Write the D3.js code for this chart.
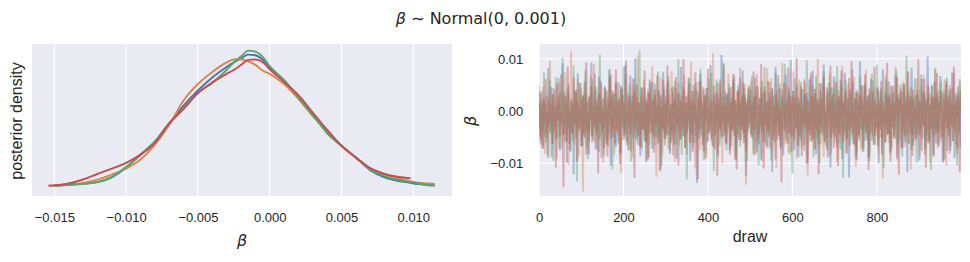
<!DOCTYPE html>
<html><head><meta charset="utf-8">
<script src="https://cdn.jsdelivr.net/npm/d3@7"></script>
<style>body{margin:0;background:#fff}svg{display:block}</style>
</head><body><svg id="c" width="970" height="262"></svg>
<script>
// ---------------- data ----------------
const chainColors = ["#4C72B0", "#DD8452", "#55A868", "#C44E52"];

// KDE evaluation grid (beta values) and per-chain density (arbitrary units)
const kdeGrid = [-0.0154, -0.015, -0.014, -0.013, -0.012, -0.011, -0.010, -0.009, -0.008, -0.007, -0.006, -0.005, -0.004, -0.003, -0.0025, -0.002, -0.0015, -0.001, -0.0005, 0, 0.001, 0.002, 0.003, 0.004, 0.005, 0.006, 0.007, 0.008, 0.009, 0.0098, 0.010, 0.011, 0.0115];
const kdeChain0 = [null, 2.2, 2.6, 3.5, 4.5, 7.9, 15.0, 24.5, 33.7, 46.9, 59.8, 70.7, 80.1, 87.7, 91.0, 93.9, 96.6, 96.2, 93.1, 87.4, 77.2, 66.0, 53.5, 40.0, 30.7, 22.1, 13.2, 8.0, 5.3, 4.0, 3.5, 2.7, 2.5];
const kdeChain1 = [2.0, 2.0, 2.6, 3.9, 6.3, 10.0, 14.3, 20.8, 31.6, 45.8, 63.5, 75.4, 84.1, 91.0, 93.1, 93.3, 91.7, 89.2, 85.2, 82.7, 75.4, 64.7, 52.2, 41.9, 30.8, 22.4, 14.5, 10.3, 7.3, 5.1, 4.7, 3.6, 3.2];
const kdeChain2 = [null, 1.9, 2.5, 3.2, 4.6, 8.2, 15.5, 24.0, 33.9, 46.9, 57.4, 68.8, 76.2, 85.5, 91.0, 95.2, 99.5, 98.8, 95.2, 88.4, 78.3, 65.8, 52.7, 40.4, 30.7, 22.3, 13.9, 8.8, 6.1, 4.6, 4.3, 2.3, 2.0];
const kdeChain3 = [2.0, 2.1, 3.5, 6.4, 10.4, 14.2, 18.4, 24.4, 32.7, 46.9, 57.4, 68.8, 76.6, 82.7, 85.5, 89.1, 92.8, 93.1, 91.3, 86.1, 76.9, 67.3, 54.7, 42.3, 30.8, 22.4, 14.7, 10.4, 8.2, 7.3, null, null, null];

// Trace values, in units of 1e-4 (every 2nd draw)
const traceChain0 = [
-12,35,-48,6,-71,-22,18,-5,-60,29,
-33,82,-15,-41,11,-88,-2,44,-27,-9,
-54,20,-19,63,-37,-76,3,-14,91,-45,
-8,-30,27,-99,-17,51,-63,9,-25,-40,
14,-121,-6,38,-52,-11,72,-34,-20,5,
-67,24,-43,-1,57,-29,-84,16,-10,-58,
31,-16,93,-47,-3,-26,40,-73,8,-38,
-13,66,-56,22,-90,-7,12,-31,48,-21,
-64,1,-44,79,-18,-105,26,-4,-50,34,
-28,-69,17,-12,55,-36,-1,-81,43,-23,
10,-46,87,-9,-59,21,-32,-15,68,-77,
-2,30,-51,-19,101,-40,7,-65,-24,15,
-86,46,-11,-35,2,-57,25,-98,-6,36,
-42,60,-27,-14,-72,19,-3,52,-49,-30,
13,-62,39,-20,-113,4,-37,75,-16,-53,
28,-8,-44,58,-25,-82,11,-1,-39,47,
-66,23,-13,-91,33,-29,6,-55,84,-18,
-7,-48,41,-70,15,-23,-34,62,-4,-96,
20,-43,-12,50,-61,9,-28,-137,37,-15,
-52,71,-5,-33,18,-78,27,-21,-10,45,
-58,3,-40,88,-26,-9,-68,32,-45,12,
-17,54,-87,-2,24,-36,107,-50,-14,8,
-31,-64,35,-22,-6,42,-75,16,-39,-11,
61,-47,21,-94,0,-27,49,-56,14,-19,
-35,78,-8,-60,26,-124,10,-42,31,-24,
-21,40,-6,-53,17,-36,64,-15,-79,8,
-44,25,-10,-93,33,-2,-60,47,-28,11,
-71,19,-39,56,-19,-8,-116,29,-47,3,
84,-24,-55,13,-32,44,-68,-1,22,-85,
6,-41,70,-12,-26,-62,36,-17,98,-49,
-5,27,-74,15,-34,50,-9,-88,21,-30,
-57,9,42,-23,-66,31,-3,-101,18,-37,
60,-14,-45,4,77,-52,-20,34,-82,-7,
24,-64,12,-29,53,-11,-40,89,-58,-16,
1,-75,38,-25,16,-108,45,-33,-4,66,
-50,20,-13,-69,28,-42,8,59,-27,-92,
14,-38,73,-6,-54,23,-19,-127,41,-10,
-31,55,-63,2,-22,35,-80,17,-46,7,
95,-35,-11,26,-70,49,-24,-3,-56,30,
-15,-87,11,62,-41,-18,39,-65,5,-29,
-9,46,-100,21,-36,13,-52,80,-21,-1,
-60,32,-7,-44,57,-30,-78,18,-12,36,
-48,4,69,-26,-89,25,-16,-5,43,-71,
10,-34,52,-59,-2,28,-117,37,-23,15,
-43,83,-11,-67,22,-28,6,-51,40,-14,
-95,19,-37,61,-8,-25,31,-73,3,-46,
104,-20,-56,14,-32,48,-4,-84,27,-18,
-62,35,-9,-40,9,67,-53,-21,-99,24,
-3,-33,58,-76,16,-47,39,-12,-27,74,
-58,12,-90,30,-15,-4,47,-38,21,-69];
const traceChain1 = [
5,-39,22,-66,-14,47,-28,-81,13,-7,
-50,31,-20,96,-35,-3,-62,18,-44,40,
-16,-92,9,-31,55,-24,-1,-70,28,-11,
-58,74,-19,-42,6,-103,33,-8,114,-27,
-46,16,-65,25,-13,-30,61,-87,2,-37,
43,-21,-154,11,-52,36,-4,-74,20,-33,
-10,67,-48,4,-26,90,-60,15,-17,-41,
29,-79,8,-23,51,-36,-99,23,-6,-55,
39,-15,-68,12,81,-29,-2,-45,34,-84,
-12,57,-38,1,-63,26,-20,-118,45,-9,
-32,17,-53,70,-25,-7,-76,35,-43,10,
-3,-89,48,-18,24,-57,3,106,-34,-14,
-71,30,-27,-5,59,-47,14,-95,-22,42,
-11,-64,19,-39,86,-8,-51,27,-30,-126,
7,38,-59,-16,64,-21,-85,9,-44,21,
-28,50,-1,-72,32,-13,-37,77,-56,-4,
15,-97,44,-24,-10,53,-67,6,-33,28,
-49,-18,69,-40,-2,-83,37,-26,12,-61,
94,-15,-46,22,-6,-110,41,-35,3,58,
-29,-74,18,-12,46,-54,-21,31,-88,8,
-41,63,-9,-31,25,-66,111,-20,-48,13,
-3,-79,34,-17,52,-38,-7,-100,27,-25,
40,-58,10,-44,71,-14,-32,19,-69,-1,
55,-27,-93,16,-11,36,-50,-19,83,-36,
-6,24,-62,44,-24,-141,20,-8,49,-30,
-17,58,-43,9,-85,26,-29,-4,71,-52,
14,-36,-11,45,-96,3,-22,37,-61,-8,
82,-30,18,-47,-2,63,-75,10,-25,31,
-14,-109,41,-38,7,-56,22,-19,92,-33,
-66,13,-3,50,-27,-80,34,-12,-45,19,
-7,76,-59,-23,28,-91,4,-40,60,-16,
39,-70,15,-31,-1,54,-48,24,-123,8,
-35,66,-20,-57,30,-9,43,-73,-26,11,
100,-42,-6,21,-64,35,-18,-88,47,-29,
-2,-53,18,-37,72,-13,-77,27,-4,-44,
56,-24,6,-98,40,-16,-62,23,-35,87,
-10,-49,31,-21,-81,15,52,-67,0,-28,
-55,20,-11,65,-39,-106,36,-5,12,-46,
29,-73,48,-19,-32,9,-58,78,-23,-8,
-90,33,-42,17,-14,59,-65,-3,25,-37,
44,-22,-82,8,-51,38,-9,-129,21,-30,
68,-15,-47,27,-60,2,-25,49,-71,14,
-6,-39,85,-28,-94,32,-12,-54,19,-3,
-41,57,-18,-69,11,-34,74,-46,-7,26,
-112,40,-23,5,-57,30,-15,62,-40,-11,
18,-86,46,-27,-4,69,-52,13,-33,-21,
53,-63,7,-99,35,-17,-45,24,-8,80,
-36,-1,-70,42,-26,16,-59,33,-13,-48,
61,-19,-104,28,-38,10,50,-66,-5,22,
-30,73,-14,-49,9,-83,37,-24,55,-10];
const traceChain2 = [
48,-20,-63,17,-5,-36,74,-49,2,-27,
-84,23,-11,59,-42,-18,32,-95,8,-30,
65,-14,-52,12,-71,37,-3,-24,102,-46,
-9,28,-60,-19,43,-35,1,-78,20,-12,
-57,88,-26,-6,35,-135,14,-39,53,-22,
-2,-68,29,-45,11,79,-33,-15,-92,26,
-40,7,-17,61,-55,19,-30,-8,46,-74,
13,-23,108,-51,-4,-37,24,-86,5,-14,
39,-64,16,-28,-1,70,-43,-112,31,-19,
-7,54,-35,9,-58,22,-81,41,-10,-29,
85,-47,3,-21,-66,33,-13,50,-39,-97,
18,-6,-31,62,-25,8,-54,27,-16,116,
-44,-2,-73,21,-36,45,-11,-61,15,-27,
-89,36,-20,4,57,-48,-8,30,-67,-15,
11,76,-41,-24,25,-104,6,-33,42,-12,
-53,19,-3,67,-30,-77,14,-18,-45,34,
-9,58,-62,2,-25,99,-38,-14,23,-84,
47,-29,-5,-50,16,-131,28,-21,64,-8,
-40,10,-70,38,-17,-2,55,-57,20,-32,
-11,81,-46,7,-26,-93,31,-13,44,-60,
3,-36,26,-19,73,-52,-4,-115,17,-28,
60,-9,-42,13,-65,36,-22,1,92,-47,
-15,29,-75,9,-31,52,-7,-56,24,-38,
-1,68,-24,-87,15,-44,40,-12,-69,19,
-27,56,5,-51,32,-18,-96,22,-35,48,
12,-45,67,-22,-81,30,-9,47,-58,-16,
-103,25,-33,6,58,-40,-14,84,-29,-67,
19,-5,-50,36,-20,-94,42,-11,3,-61,
73,-27,-8,21,-46,52,-72,-1,30,-35,
-13,90,-55,17,-28,-6,45,-83,9,-42,
-120,38,-19,63,-32,11,-64,26,-2,-49,
55,-15,-37,8,-77,34,-24,97,-44,-10,
-3,-59,28,-18,49,-89,15,-31,68,-52,
23,-7,-101,40,-26,12,-47,76,-14,-36,
-68,31,-4,54,-21,-85,19,-41,2,43,
-16,-60,36,86,-34,-9,20,-74,47,-25,
-128,14,-39,59,-12,-51,27,3,-66,33,
-20,80,-46,-5,24,-90,41,-30,10,-57,
65,-13,-35,18,-78,8,53,-43,-22,29,
-7,-96,37,-17,71,-48,1,-62,22,-33,
89,-11,-54,15,-27,44,-70,6,-109,35,
-24,60,-4,-41,26,-18,-82,48,-31,9,
-52,20,-14,78,-38,-65,32,-3,51,-23,
-87,11,-45,39,-9,106,-60,16,-29,-1,
46,-75,25,-20,-44,62,-15,-99,30,-6,
-36,16,70,-53,4,-27,38,-84,21,-12,
-59,33,-19,7,-113,50,-30,14,-48,82,
-10,-41,27,-69,19,-2,57,-36,-23,41,
-92,6,-17,64,-50,29,-8,-76,13,-33,
44,-22,10,-63,35,-104,18,-46,61,-5];
const traceChain3 = [
-30,14,-55,38,-8,-72,25,-19,61,-41,
-4,-90,19,-25,46,-12,-63,33,-37,8,
-108,52,-16,-3,29,-49,70,-28,-10,-146,
36,-21,11,-58,85,-33,0,-76,23,-15,
-44,64,-7,-26,41,-97,16,-35,5,54,
-20,-68,30,-11,-50,18,93,-39,-2,-82,
27,-17,47,-60,9,-31,72,-6,-46,20,
-119,35,-23,58,-12,-40,3,-71,44,-29,
12,-87,26,-9,67,-53,-18,39,-34,1,
-64,80,-14,-43,22,-27,-101,49,-5,31,
-56,15,-38,96,-21,-8,-74,28,-45,10,
-2,62,-32,-128,37,-15,51,-48,17,-24,
-69,6,43,-36,-11,77,-59,21,-1,-93,
33,-20,55,-42,-7,24,-80,40,-28,-13,
68,-52,9,-115,30,-4,-35,59,-22,-66,
14,-47,87,-16,-30,4,-61,45,-10,-85,
23,-39,65,-26,11,-104,34,-6,-54,18,
-33,99,-18,-70,28,-44,7,-13,53,-60,
-3,38,-79,16,-25,74,-48,-9,-131,26,
-37,57,-14,2,-65,42,-21,-92,31,-5,
81,-43,13,-29,-57,20,-8,48,-73,-17,
35,-124,24,-34,60,-11,-51,8,-19,89,
-40,17,-62,32,-24,1,-83,46,-15,-36,
71,-9,-47,21,-112,39,-27,6,63,-55,
-12,29,-41,52,-20,-77,15,-31,44,-2,
22,-50,9,-35,76,-18,-83,31,-7,48,
-64,13,-28,90,-45,-2,-110,37,-20,17,
-39,58,-12,-71,26,-5,44,-56,-30,10,
-92,33,-16,69,-48,6,-25,-136,41,-9,
54,-37,15,-62,2,83,-43,-21,29,-78,
-1,38,-54,21,-33,101,-14,-67,12,-40,
47,-86,3,-23,60,-31,-11,35,-99,18,
-47,7,73,-58,-19,28,-73,42,-4,-36,
16,-121,53,-13,-42,24,-8,66,-61,1,
-28,45,-89,19,-15,87,-52,-3,32,-70,
8,-34,57,-24,-105,27,-46,13,78,-17,
-59,20,-6,40,-81,5,-32,63,-38,-12,
95,-44,14,-66,25,-20,-94,36,-1,-51,
30,-9,49,-77,11,-29,70,-41,-16,21,
-113,43,-25,4,-57,34,-10,84,-48,-22,
13,-68,39,-3,-35,58,-84,17,-27,7,
-60,26,92,-45,-14,32,-97,9,-31,48,
-20,-53,15,-8,65,-39,-122,23,-4,37,
-71,11,50,-26,-49,18,-12,76,-63,-2,
28,-38,-86,41,-17,6,-55,31,-24,99,
-46,14,-7,-76,35,-30,61,-19,-108,22,
-3,46,-60,10,-36,27,-15,-88,56,-11,
-43,72,-24,-64,17,-1,38,-50,8,-95,
33,-18,52,-33,-6,24,-81,43,-26,12,
-57,85,-9,-40,20,-72,30,-14,-117,39];
const drawStep = 2; // each stored value corresponds to every 2nd draw

const kdeXTicks = [-0.015, -0.010, -0.005, 0, 0.005, 0.010];
const traceXTicks = [0, 200, 400, 600, 800];
const traceYTicks = [-0.01, 0, 0.01];

const titleVar = "β";
const titleRest = " ∼ Normal(0, 0.001)";
const kdeYLabel = "posterior density";
const traceXLabel = "draw";

// ---------------- drawing ----------------
const svg = d3.select("#c");
const BG = "#EAEAF2", TXT = "#262626";
const tickFont = "'Liberation Sans', Arial, sans-serif";
const mathFont = "'DejaVu Sans', sans-serif";

// title
const t = svg.append("text").attr("x", 481).attr("y", 24).attr("text-anchor", "middle")
  .attr("font-family", mathFont).attr("font-size", 16).attr("fill", TXT);
t.append("tspan").attr("font-style", "italic").text(titleVar);
t.append("tspan").text(titleRest);

// ----- left: KDE -----
const L = {x0: 32, x1: 452, y0: 44, y1: 196};
const xK = d3.scaleLinear().domain([-0.016553, 0.012695]).range([L.x0, L.x1]);
const yK = d3.scaleLinear().domain([-5.5, 104.3]).range([L.y1, L.y0]);
const gL = svg.append("g");
gL.append("rect").attr("x", L.x0).attr("y", L.y0).attr("width", L.x1 - L.x0).attr("height", L.y1 - L.y0).attr("fill", BG);
gL.selectAll("line.grid").data(kdeXTicks).join("line").attr("class", "grid")
  .attr("x1", d => xK(d)).attr("x2", d => xK(d)).attr("y1", L.y0).attr("y2", L.y1)
  .attr("stroke", "#fff").attr("stroke-width", 1.1);

const kdeSeries = [kdeChain0, kdeChain1, kdeChain2, kdeChain3];
const kdeLine = d3.line().defined(d => d[1] != null).x(d => xK(d[0])).y(d => yK(d[1])).curve(d3.curveMonotoneX);
kdeSeries.forEach((s, i) => {
  gL.append("path").datum(kdeGrid.map((x, j) => [x, s[j]]))
    .attr("d", kdeLine).attr("fill", "none").attr("stroke", chainColors[i])
    .attr("stroke-width", 1.9).attr("stroke-linejoin", "round");
});
const axL = gL.append("g").attr("transform", `translate(0,${L.y1})`)
  .call(d3.axisBottom(xK).tickValues(kdeXTicks).tickFormat(d3.format(".3f")).tickSize(0));
axL.select(".domain").remove();
axL.selectAll("text").attr("y", 26).attr("dy", 0).attr("font-family", tickFont).attr("font-size", 13).attr("fill", TXT);

gL.append("text").attr("x", 242).attr("y", 246).attr("text-anchor", "middle")
  .attr("font-family", mathFont).attr("font-style", "italic").attr("font-size", 16).attr("fill", TXT).text(titleVar);
gL.append("text").attr("transform", "translate(22,121) rotate(-90)").attr("text-anchor", "middle")
  .attr("font-family", tickFont).attr("font-size", 16).attr("fill", TXT).text(kdeYLabel);

// ----- right: trace -----
const R = {x0: 539, x1: 961, y0: 44, y1: 196};
const xT = d3.scaleLinear().domain([0, 999]).range([R.x0, R.x1]);
const yT = d3.scaleLinear().domain([-0.016252, 0.012811]).range([R.y1, R.y0]);
const gR = svg.append("g");
gR.append("rect").attr("x", R.x0).attr("y", R.y0).attr("width", R.x1 - R.x0).attr("height", R.y1 - R.y0).attr("fill", BG);
svg.append("defs").append("clipPath").attr("id", "clipR").append("rect")
  .attr("x", R.x0).attr("y", R.y0).attr("width", R.x1 - R.x0).attr("height", R.y1 - R.y0);
gR.selectAll("line.gx").data(traceXTicks).join("line").attr("class", "gx")
  .attr("x1", d => xT(d)).attr("x2", d => xT(d)).attr("y1", R.y0).attr("y2", R.y1)
  .attr("stroke", "#fff").attr("stroke-width", 1.1);
gR.selectAll("line.gy").data(traceYTicks).join("line").attr("class", "gy")
  .attr("y1", d => yT(d)).attr("y2", d => yT(d)).attr("x1", R.x0).attr("x2", R.x1)
  .attr("stroke", "#fff").attr("stroke-width", 1.1);

const traceSeries = [traceChain0, traceChain1, traceChain2, traceChain3];
const traceLine = d3.line().x(d => xT(d[0])).y(d => yT(d[1]));
const gLines = gR.append("g").attr("clip-path", "url(#clipR)");
traceSeries.forEach((s, i) => {
  gLines.append("path").datum(s.map((v, j) => [j * drawStep, v / 10000]))
    .attr("d", traceLine).attr("fill", "none").attr("stroke", chainColors[i])
    .attr("stroke-opacity", 0.4).attr("stroke-width", 2).attr("stroke-linejoin", "bevel");
});

const axRx = gR.append("g").attr("transform", `translate(0,${R.y1})`)
  .call(d3.axisBottom(xT).tickValues(traceXTicks).tickFormat(d3.format("d")).tickSize(0));
axRx.select(".domain").remove();
axRx.selectAll("text").attr("y", 26).attr("dy", 0).attr("font-family", tickFont).attr("font-size", 13).attr("fill", TXT);

const axRy = gR.append("g").attr("transform", `translate(${R.x0},0)`)
  .call(d3.axisLeft(yT).tickValues(traceYTicks).tickFormat(d3.format(".2f")).tickSize(0));
axRy.select(".domain").remove();
axRy.selectAll("text").attr("x", -15.7).attr("dy", "0.34em").attr("font-family", tickFont).attr("font-size", 13).attr("fill", TXT);

gR.append("text").attr("x", 750).attr("y", 242).attr("text-anchor", "middle")
  .attr("font-family", tickFont).attr("font-size", 16).attr("fill", TXT).text(traceXLabel);
gR.append("text").attr("transform", "translate(476,121) rotate(-90)").attr("text-anchor", "middle")
  .attr("font-family", mathFont).attr("font-style", "italic").attr("font-size", 16).attr("fill", TXT).text(titleVar);
</script></body></html>
